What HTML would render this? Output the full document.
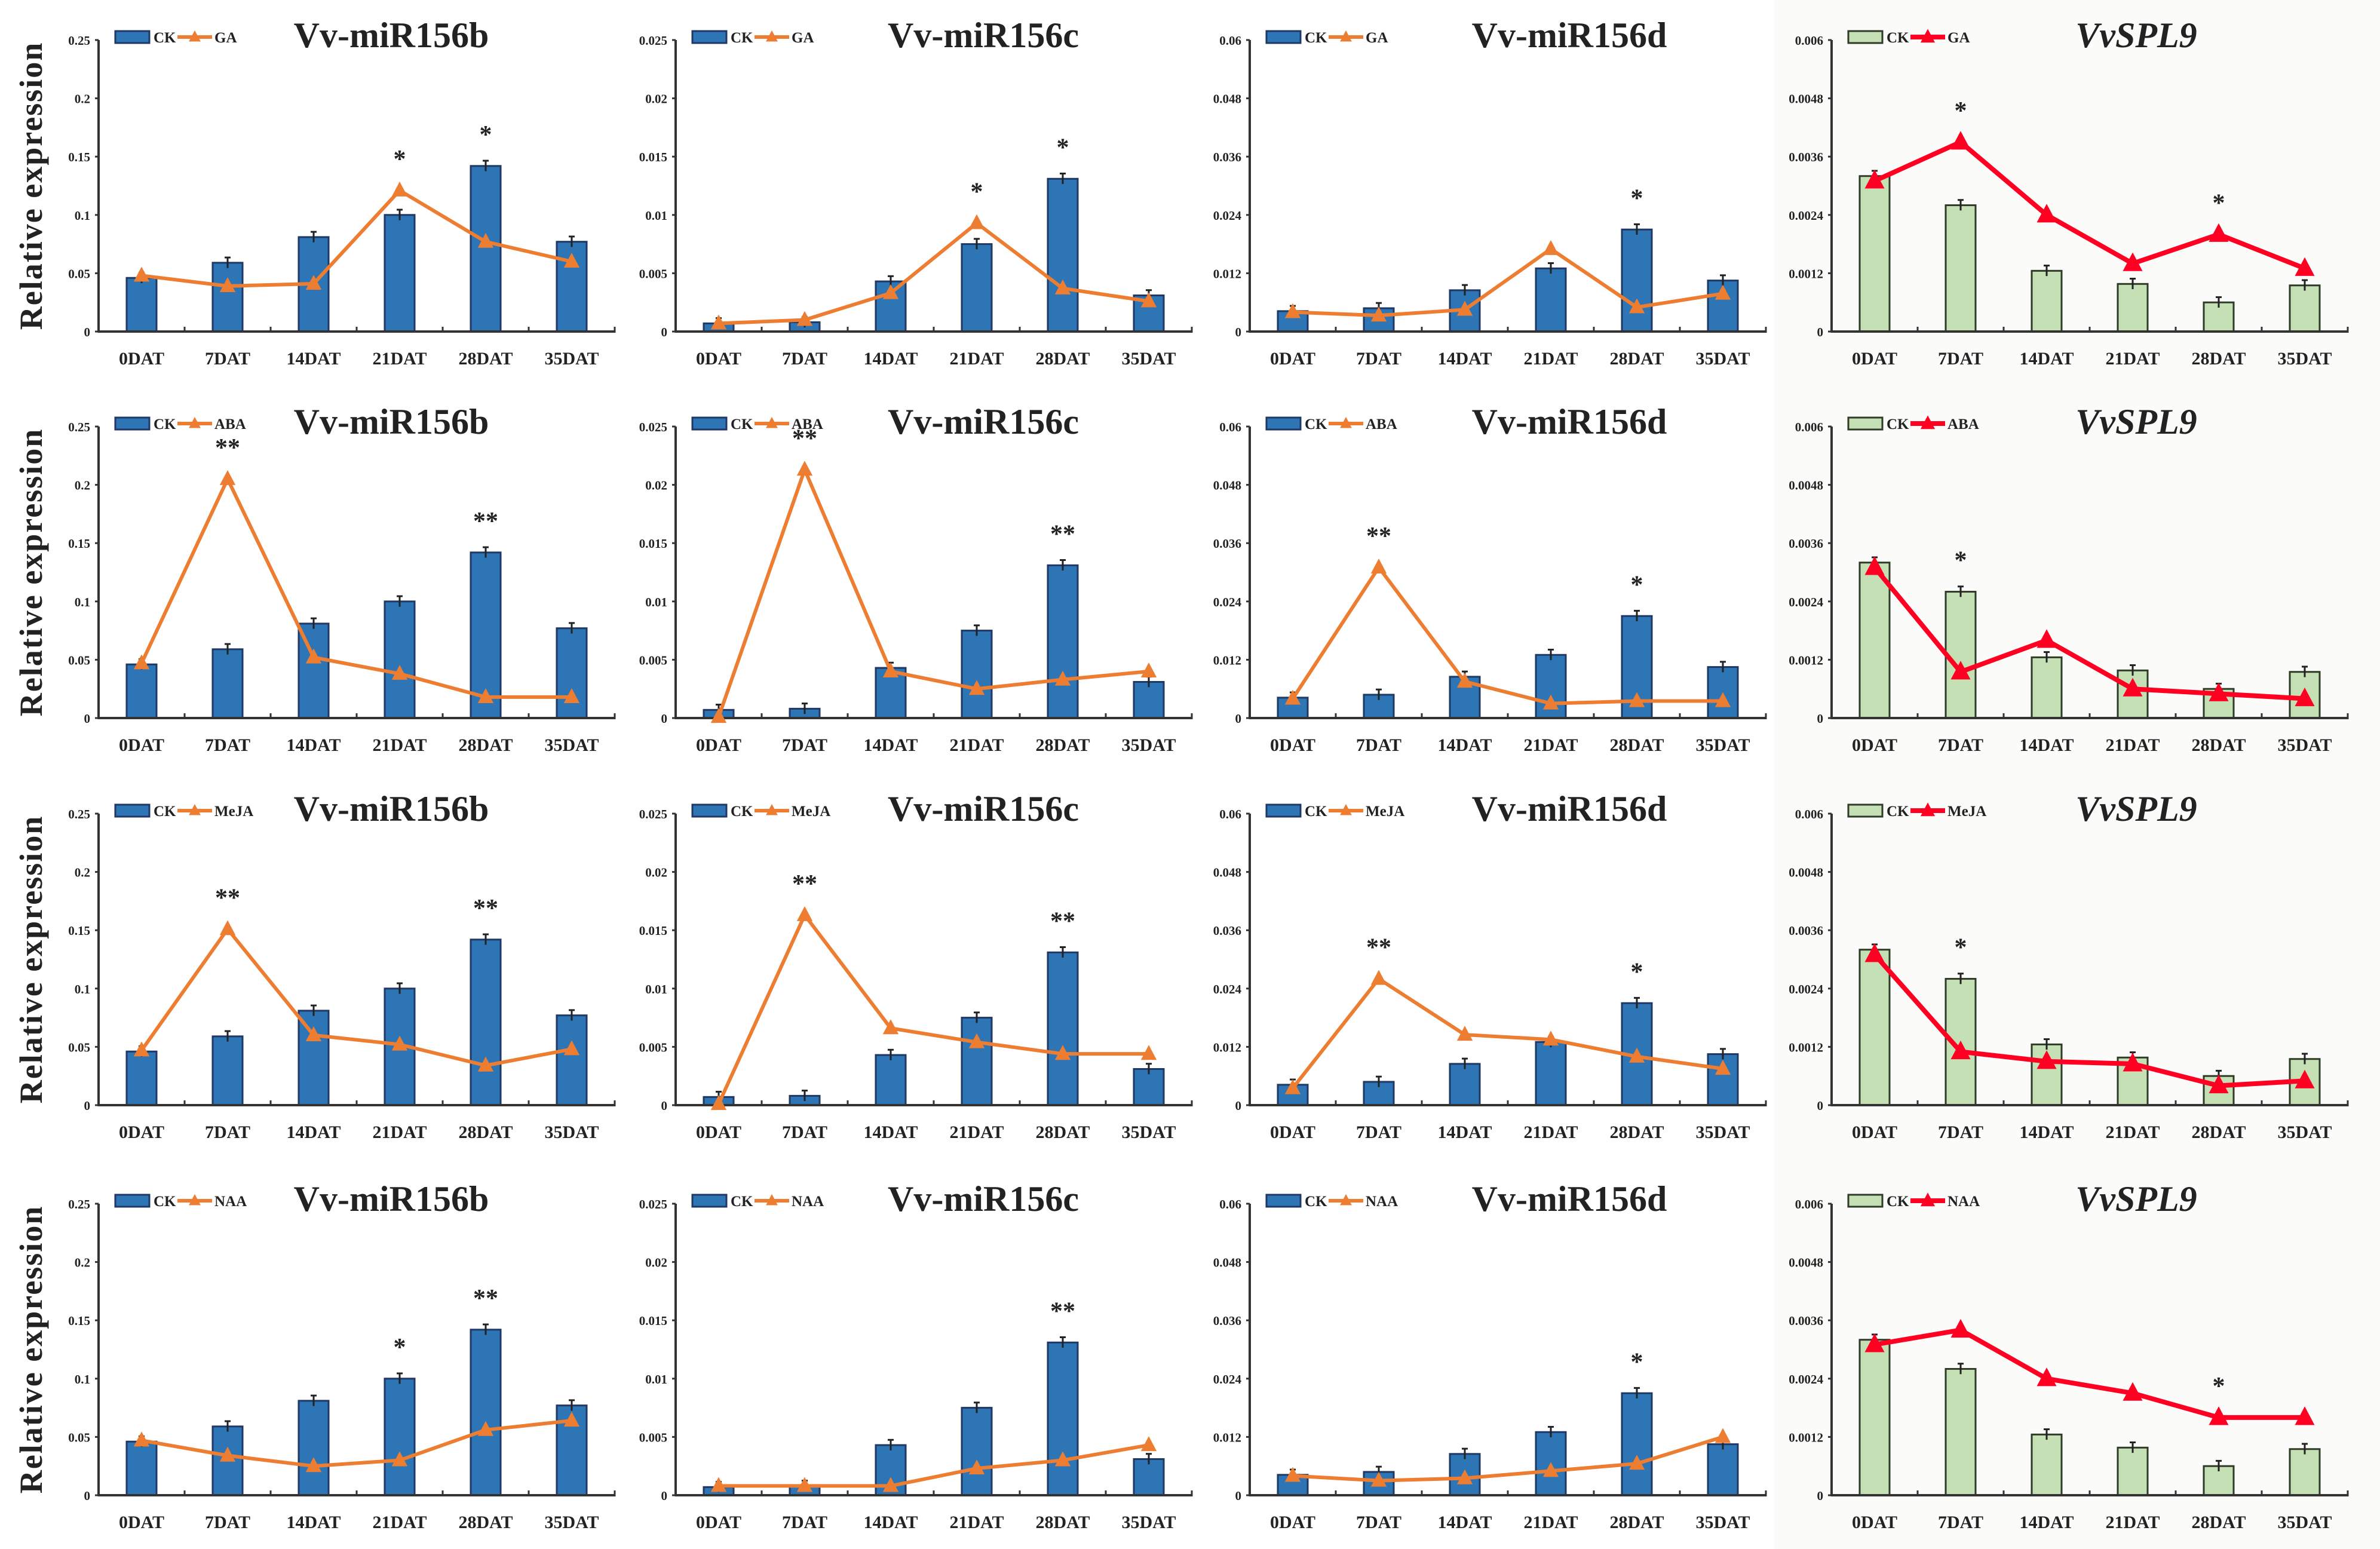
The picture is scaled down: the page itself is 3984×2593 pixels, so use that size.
<!DOCTYPE html>
<html><head><meta charset="utf-8"><style>
html,body{margin:0;padding:0;background:#fff;}
svg{display:block;}
text{font-family:"Liberation Serif",serif;font-weight:bold;fill:#222;}
</style></head><body>
<svg id="fig" width="3984" height="2593" viewBox="0 0 3984 2593" xmlns="http://www.w3.org/2000/svg">
<rect x="0" y="0" width="3984" height="2593" fill="#fff"/>
<rect x="2970" y="0" width="1014" height="2593" fill="#fbfbf9"/>
</svg>
<script>
const categories = ["0DAT","7DAT","14DAT","21DAT","28DAT","35DAT"];
const treatments = ["GA","ABA","MeJA","NAA"];
const genes = ["Vv-miR156b","Vv-miR156c","Vv-miR156d","VvSPL9"];
const yMax = [0.25,0.025,0.06,0.006];
const tickLabelsB = ["0","0.05","0.1","0.15","0.2","0.25"];
const tickLabelsC = ["0","0.005","0.01","0.015","0.02","0.025"];
const tickLabelsD = ["0","0.012","0.024","0.036","0.048","0.06"];
const tickLabelsS = ["0","0.0012","0.0024","0.0036","0.0048","0.006"];
const ckB = [0.046,0.059,0.081,0.100,0.142,0.077];
const ckC = [0.0007,0.0008,0.0043,0.0075,0.0131,0.0031];
const ckD = [0.0042,0.0048,0.0085,0.0130,0.0210,0.0105];
const ckS = [0.0032,0.0026,0.00125,0.00098,0.0006,0.00095];
const gaB = [0.048,0.039,0.041,0.121,0.077,0.060];
const gaC = [0.0007,0.0010,0.0033,0.0093,0.0037,0.0026];
const gaD = [0.0040,0.0033,0.0045,0.0170,0.0050,0.0078];
const gaS = [0.0031,0.0039,0.0024,0.0014,0.0020,0.0013];
const abaB = [0.047,0.205,0.052,0.038,0.018,0.018];
const abaC = [0.0001,0.0213,0.0040,0.0025,0.0033,0.0040];
const abaD = [0.0040,0.0310,0.0075,0.0030,0.0035,0.0035];
const abaS = [0.0031,0.00095,0.0016,0.0006,0.0005,0.0004];
const mejaB = [0.047,0.151,0.060,0.052,0.034,0.048];
const mejaC = [0.0001,0.0163,0.0066,0.0054,0.0044,0.0044];
const mejaD = [0.0035,0.0260,0.0145,0.0135,0.0100,0.0075];
const mejaS = [0.0031,0.0011,0.0009,0.00085,0.0004,0.0005];
const naaB = [0.047,0.034,0.025,0.030,0.056,0.064];
const naaC = [0.0008,0.0008,0.0008,0.0023,0.0030,0.0043];
const naaD = [0.0040,0.0030,0.0035,0.0050,0.0065,0.0120];
const naaS = [0.0031,0.0034,0.0024,0.0021,0.0016,0.0016];
const starsGA = [["","","","*","*",""],["","","","*","*",""],["","","","","*",""],["","*","","","*",""]];
const starsABA = [["","**","","","**",""],["","**","","","**",""],["","**","","","*",""],["","*","","","",""]];
const starsMeJA = [["","**","","","**",""],["","**","","","**",""],["","**","","","*",""],["","*","","","",""]];
const starsNAA = [["","","","*","**",""],["","","","","**",""],["","","","","*",""],["","","","","*",""]];

const ckAll = [ckB,ckC,ckD,ckS];
const trtAll = [[gaB,gaC,gaD,gaS],[abaB,abaC,abaD,abaS],[mejaB,mejaC,mejaD,mejaS],[naaB,naaC,naaD,naaS]];
const starAll = [starsGA,starsABA,starsMeJA,starsNAA];
const tickAll = [tickLabelsB,tickLabelsC,tickLabelsD,tickLabelsS];

const NS = "http://www.w3.org/2000/svg";
const svg = document.getElementById("fig");
const colX = [165,1131,2092,3066];
const titleDX = [490,515,535,510];
const rowTop = [67,714,1362,2015];
const PW = 864, PH = 488;
function mk(tag, attrs, parent, txt){
  const e = document.createElementNS(NS, tag);
  for (const k in attrs) e.setAttribute(k, attrs[k]);
  if (txt !== undefined) e.textContent = txt;
  (parent||svg).appendChild(e);
  return e;
}
function tri(cx, cy, s){
  return `${cx},${cy-s*0.62} ${cx-s*0.55},${cy+s*0.42} ${cx+s*0.55},${cy+s*0.42}`;
}

for (let r=0;r<4;r++){
  const yl = mk("text",{x:0,y:0,"font-size":54,"text-anchor":"middle","letter-spacing":"2",transform:`translate(70,${rowTop[r]+244}) rotate(-90)`},svg,"Relative expression");
  
  
  for (let c=0;c<4;c++){
    const x0 = colX[c], y0 = rowTop[r], yb = y0+PH;
    const isS = c===3;
    const g = mk("g",{});
    
    
    const ymax = yMax[c];
    const yScale = v => yb - v/ymax*PH;
    const xScale = i => x0 + PW/6*(i+0.5);
    const t = mk("text",{x:x0+titleDX[c],y:y0+12,"font-size":60,"text-anchor":"middle","font-style":isS?"italic":"normal"},g,genes[c]);
    
    
    const ticks = tickAll[c];
    for (let k=0;k<ticks.length;k++){
      const v = ymax*k/(ticks.length-1);
      const yy = yScale(v);
      mk("line",{x1:x0-6,x2:x0,y1:yy,y2:yy,stroke:"#333","stroke-width":3},g);
      const tl = mk("text",{x:x0-14,y:yy+8,"font-size":21,"text-anchor":"end",fill:"#333"},g,ticks[k]);
      
      
    }
    const ck = ckAll[c];
    const trt = trtAll[r][c];
    const eb = ymax*0.018;
    for (let i=0;i<6;i++){
      const cx = xScale(i), yy = yScale(ck[i]);
      const b = mk("rect",{x:cx-25,y:yy,width:50,height:yb-yy,fill:isS?"#c5e0b4":"#2e75b6",stroke:isS?"#2f3b28":"#1f3864","stroke-width":3},g);
      
      
      mk("line",{x1:cx,x2:cx,y1:yScale(ck[i]+eb),y2:yScale(Math.max(0,ck[i]-eb)),stroke:"#222","stroke-width":3},g);
      mk("line",{x1:cx-5,x2:cx+5,y1:yScale(ck[i]+eb),y2:yScale(ck[i]+eb),stroke:"#222","stroke-width":3},g);
    }
    mk("line",{x1:x0,x2:x0,y1:y0,y2:yb,stroke:"#333","stroke-width":4},g);
    mk("line",{x1:x0,x2:x0+PW,y1:yb,y2:yb,stroke:"#333","stroke-width":4},g);
    for (let i=0;i<=6;i++){
      const xx = x0+PW/6*i;
      mk("line",{x1:xx,x2:xx,y1:yb-8,y2:yb+2,stroke:"#333","stroke-width":3},g);
    }
    for (let i=0;i<6;i++){
      const cl = mk("text",{x:xScale(i),y:yb+55,"font-size":30,"text-anchor":"middle"},g,categories[i]);
      
      
    }
    const lc = isS?"#ff0022":"#ed7d31";
    const pts = trt.map((v,i)=>xScale(i)+","+yScale(v)).join(" ");
    const pl = mk("polyline",{points:pts,fill:"none",stroke:lc,"stroke-width":isS?8:6,"stroke-linejoin":"round"},g);
    
    
    for (let i=0;i<6;i++){
      const cx = xScale(i), yy = yScale(trt[i]);
      mk("line",{x1:cx,x2:cx,y1:yScale(trt[i]+eb),y2:yScale(Math.max(0,trt[i]-eb)),stroke:"#444","stroke-width":3},g);
      const m = mk("polygon",{points:tri(cx,yy,isS?30:24),fill:lc},g);
      
      
      const st = starAll[r][c][i];
      if (st){
        const top = Math.max(ck[i],trt[i])+eb;
        const s = mk("text",{x:cx,y:yScale(top)-30,"font-size":42,"text-anchor":"middle","font-weight":"normal"},g,st);
        
        
      }
    }
    const lg = mk("g",{},g);
    
    
    const lx = x0+28, ly = y0-5;
    mk("rect",{x:lx,y:ly-10,width:57,height:20,fill:isS?"#c5e0b4":"#2e75b6",stroke:isS?"#2f3b28":"#1f3864","stroke-width":3},lg);
    mk("text",{x:lx+64,y:ly+9,"font-size":25},lg,"CK");
    mk("line",{x1:lx+104,x2:lx+162,y1:ly,y2:ly,stroke:lc,"stroke-width":isS?8:6},lg);
    mk("polygon",{points:tri(lx+133,ly,isS?22:18),fill:lc},lg);
    mk("text",{x:lx+166,y:ly+9,"font-size":25},lg,treatments[r]);
  }
}
</script>
</body></html>
